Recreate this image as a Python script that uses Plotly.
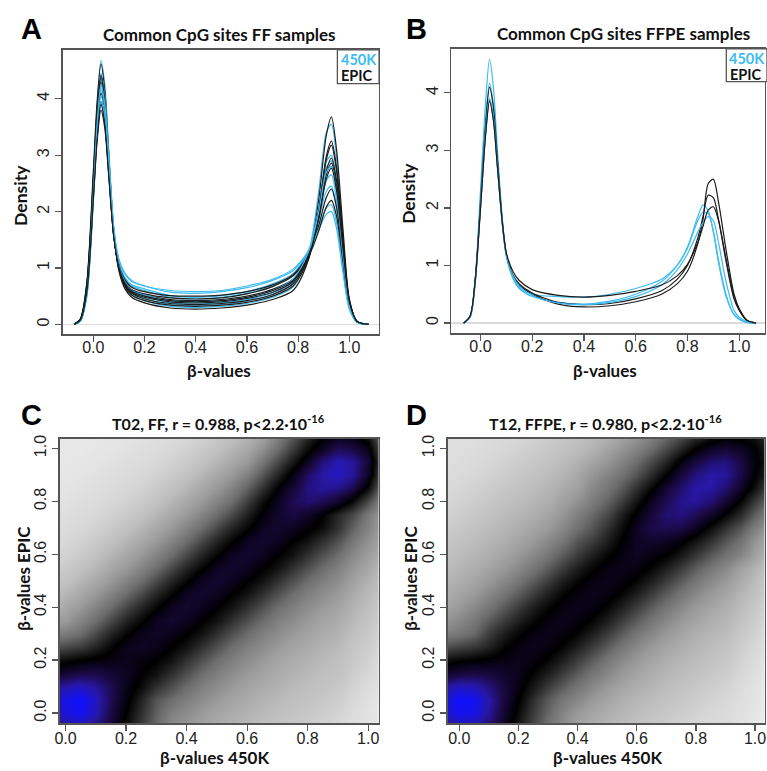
import plotly.graph_objects as go

W, H = 767, 771
BLUE = "#3DBBF2"
BLACK = "#1c1c1c"

# ---------------- Panel A: density curves, FF samples ----------------
A_X = [-0.075, -0.05, -0.025, 0.0, 0.015, 0.03, 0.045, 0.06, 0.08, 0.1, 0.125, 0.15, 0.2, 0.3,
       0.4, 0.5, 0.6, 0.7, 0.78, 0.84, 0.88, 0.91, 0.93, 0.95, 0.975, 1.0, 1.03, 1.075]
A_EPIC = [
    [0, 0.1, 0.75, 2.7, 3.95, 4.62, 4.15, 3.05, 1.65, 0.95, 0.62, 0.48, 0.38, 0.29, 0.27, 0.29, 0.34, 0.44, 0.6, 1.15, 2.2, 3.35, 3.68, 3.1, 1.7, 0.45, 0.05, 0],
    [0, 0.1, 0.72, 2.6, 3.8, 4.42, 3.98, 2.92, 1.6, 0.98, 0.66, 0.52, 0.42, 0.34, 0.32, 0.34, 0.39, 0.5, 0.68, 1.15, 2.0, 2.98, 3.25, 2.78, 1.55, 0.42, 0.05, 0],
    [0, 0.09, 0.7, 2.55, 3.75, 4.38, 3.95, 2.9, 1.62, 1.0, 0.68, 0.55, 0.45, 0.37, 0.35, 0.37, 0.42, 0.53, 0.72, 1.18, 2.0, 2.92, 3.18, 2.72, 1.5, 0.42, 0.05, 0],
    [0, 0.09, 0.68, 2.5, 3.68, 4.30, 3.88, 2.85, 1.6, 1.0, 0.7, 0.57, 0.48, 0.4, 0.38, 0.4, 0.46, 0.57, 0.76, 1.2, 1.92, 2.72, 2.95, 2.55, 1.42, 0.4, 0.05, 0],
    [0, 0.08, 0.65, 2.4, 3.5, 4.10, 3.72, 2.78, 1.58, 1.02, 0.72, 0.6, 0.52, 0.44, 0.42, 0.44, 0.5, 0.62, 0.8, 1.22, 1.9, 2.65, 2.86, 2.45, 1.38, 0.4, 0.05, 0],
    [0, 0.08, 0.62, 2.3, 3.38, 3.95, 3.6, 2.72, 1.58, 1.05, 0.78, 0.66, 0.58, 0.51, 0.5, 0.52, 0.58, 0.7, 0.88, 1.25, 1.75, 2.25, 2.40, 2.08, 1.2, 0.38, 0.05, 0],
    [0, 0.08, 0.6, 2.25, 3.32, 3.90, 3.55, 2.7, 1.56, 1.04, 0.75, 0.62, 0.54, 0.47, 0.45, 0.47, 0.54, 0.67, 0.86, 1.2, 1.65, 2.08, 2.20, 1.92, 1.12, 0.36, 0.05, 0],
    [0, 0.08, 0.58, 2.2, 3.25, 3.80, 3.48, 2.65, 1.55, 1.02, 0.72, 0.59, 0.5, 0.42, 0.40, 0.42, 0.48, 0.6, 0.78, 1.2, 1.85, 2.58, 2.77, 2.38, 1.35, 0.4, 0.05, 0],
]
A_450K = [
    [0, 0.07, 0.6, 2.5, 3.85, 4.68, 4.25, 3.15, 1.72, 1.0, 0.66, 0.52, 0.42, 0.32, 0.30, 0.32, 0.37, 0.48, 0.66, 1.25, 2.35, 3.4, 3.55, 2.95, 1.5, 0.38, 0.04, 0],
    [0, 0.07, 0.58, 2.4, 3.7, 4.45, 4.05, 3.02, 1.68, 1.02, 0.7, 0.56, 0.46, 0.35, 0.33, 0.35, 0.41, 0.53, 0.72, 1.25, 2.05, 2.88, 3.0, 2.5, 1.3, 0.35, 0.04, 0],
    [0, 0.07, 0.56, 2.35, 3.62, 4.35, 3.98, 2.98, 1.68, 1.04, 0.72, 0.58, 0.5, 0.38, 0.36, 0.38, 0.44, 0.56, 0.75, 1.25, 2.0, 2.78, 2.9, 2.42, 1.26, 0.34, 0.04, 0],
    [0, 0.06, 0.54, 2.28, 3.5, 4.2, 3.85, 2.92, 1.68, 1.08, 0.8, 0.68, 0.6, 0.48, 0.45, 0.48, 0.55, 0.68, 0.86, 1.3, 1.92, 2.55, 2.65, 2.2, 1.15, 0.32, 0.04, 0],
    [0, 0.06, 0.53, 2.25, 3.45, 4.15, 3.8, 2.9, 1.68, 1.1, 0.82, 0.7, 0.63, 0.51, 0.48, 0.51, 0.58, 0.72, 0.9, 1.3, 1.85, 2.36, 2.45, 2.05, 1.08, 0.3, 0.04, 0],
    [0, 0.06, 0.52, 2.2, 3.38, 4.05, 3.72, 2.86, 1.7, 1.14, 0.88, 0.76, 0.68, 0.57, 0.55, 0.58, 0.65, 0.78, 0.95, 1.3, 1.72, 2.06, 2.12, 1.8, 0.98, 0.28, 0.04, 0],
    [0, 0.06, 0.5, 2.15, 3.3, 3.95, 3.65, 2.82, 1.7, 1.16, 0.9, 0.78, 0.68, 0.6, 0.58, 0.6, 0.68, 0.8, 0.98, 1.3, 1.68, 1.95, 2.0, 1.7, 0.92, 0.27, 0.04, 0],
    [0, 0.06, 0.55, 2.3, 3.55, 4.25, 3.9, 2.95, 1.68, 1.05, 0.74, 0.6, 0.52, 0.42, 0.40, 0.42, 0.48, 0.6, 0.8, 1.28, 1.98, 2.7, 2.8, 2.34, 1.22, 0.33, 0.04, 0],
]

# ---------------- Panel B: density curves, FFPE samples ----------------
B_X = [-0.065, -0.04, -0.02, 0.0, 0.02, 0.035, 0.05, 0.065, 0.085, 0.1, 0.125, 0.15, 0.2, 0.3, 0.4,
       0.5, 0.6, 0.7, 0.76, 0.8, 0.84, 0.86, 0.88, 0.9, 0.92, 0.95, 0.98, 1.0, 1.03, 1.065]
B_EPIC = [
    [0, 0.12, 0.75, 2.0, 3.3, 3.88, 3.55, 2.75, 1.7, 1.18, 0.82, 0.66, 0.5, 0.33, 0.28, 0.3, 0.37, 0.5, 0.68, 0.9, 1.38, 1.8, 2.42, 2.5, 2.1, 1.25, 0.5, 0.25, 0.05, 0],
    [0, 0.12, 0.78, 2.1, 3.45, 4.1, 3.75, 2.88, 1.75, 1.2, 0.84, 0.68, 0.52, 0.36, 0.32, 0.34, 0.42, 0.56, 0.76, 1.0, 1.48, 1.85, 2.22, 2.18, 1.8, 1.05, 0.42, 0.22, 0.04, 0],
    [0, 0.12, 0.74, 1.98, 3.28, 3.85, 3.52, 2.74, 1.72, 1.22, 0.9, 0.74, 0.58, 0.48, 0.45, 0.48, 0.55, 0.66, 0.82, 1.02, 1.4, 1.68, 1.96, 2.02, 1.78, 1.1, 0.45, 0.24, 0.05, 0],
]
B_450K = [
    [0, 0.1, 0.78, 2.3, 3.85, 4.58, 4.1, 3.05, 1.8, 1.18, 0.78, 0.6, 0.46, 0.36, 0.33, 0.38, 0.5, 0.72, 1.0, 1.32, 1.85, 2.05, 1.95, 1.58, 1.05, 0.45, 0.14, 0.06, 0.01, 0],
    [0, 0.1, 0.74, 2.15, 3.55, 4.17, 3.78, 2.85, 1.72, 1.16, 0.8, 0.62, 0.5, 0.46, 0.45, 0.5, 0.6, 0.76, 1.0, 1.3, 1.78, 1.93, 1.9, 1.6, 1.1, 0.48, 0.15, 0.07, 0.01, 0],
    [0, 0.1, 0.7, 2.05, 3.35, 3.9, 3.58, 2.78, 1.72, 1.18, 0.82, 0.64, 0.48, 0.35, 0.32, 0.36, 0.46, 0.66, 0.92, 1.2, 1.58, 1.75, 1.85, 1.78, 1.4, 0.7, 0.22, 0.1, 0.02, 0],
]

# ---------------- Panels C / D: smoothed scatter density (0 = none, 100 = max) ----------------
GRID = [-0.05, 0.0, 0.05, 0.1, 0.15, 0.2, 0.25, 0.3, 0.35, 0.4, 0.45, 0.5, 0.55, 0.6,
        0.65, 0.7, 0.75, 0.8, 0.85, 0.9, 0.95, 1.0, 1.05]
C_Z = [
    [88, 92, 93, 90, 84, 76, 68, 60, 53, 50, 47, 45, 43, 41, 39, 38, 36, 34, 32, 30, 27, 24, 20],
    [92, 97, 99, 94, 86, 78, 70, 62, 56, 53, 50, 47, 45, 43, 41, 39, 38, 36, 34, 32, 28, 25, 21],
    [93, 98, 100, 95, 87, 80, 72, 64, 60, 56, 53, 50, 47, 45, 43, 41, 39, 38, 36, 34, 30, 26, 22],
    [90, 93, 95, 92, 87, 81, 76, 70, 65, 60, 56, 53, 50, 47, 45, 43, 41, 39, 38, 36, 32, 28, 23],
    [82, 84, 86, 86, 84, 82, 78, 75, 70, 65, 60, 56, 53, 50, 47, 45, 43, 41, 39, 38, 34, 30, 25],
    [74, 76, 78, 79, 80, 81, 80, 78, 75, 70, 65, 60, 56, 53, 50, 47, 45, 43, 41, 39, 36, 32, 27],
    [64, 66, 68, 72, 77, 81, 82, 81, 78, 75, 70, 65, 60, 56, 53, 50, 47, 45, 43, 41, 37, 34, 29],
    [55, 57, 60, 66, 72, 77, 81, 82, 81, 78, 75, 70, 65, 60, 56, 53, 50, 47, 45, 43, 39, 35, 31],
    [48, 50, 55, 60, 66, 72, 77, 82, 83, 82, 78, 75, 70, 65, 60, 56, 53, 50, 47, 45, 41, 37, 32],
    [42, 46, 50, 55, 60, 66, 72, 77, 82, 83, 82, 78, 75, 70, 65, 60, 56, 53, 50, 47, 43, 39, 34],
    [38, 42, 46, 50, 55, 60, 66, 72, 77, 82, 83, 82, 78, 75, 70, 65, 60, 56, 53, 50, 45, 41, 36],
    [35, 38, 42, 46, 50, 55, 60, 66, 72, 77, 82, 83, 82, 78, 75, 70, 65, 60, 56, 53, 48, 43, 38],
    [32, 35, 38, 42, 46, 50, 55, 60, 66, 72, 77, 82, 83, 82, 78, 75, 70, 65, 60, 56, 51, 46, 40],
    [30, 32, 35, 38, 42, 46, 50, 55, 60, 66, 72, 77, 82, 83, 82, 78, 75, 70, 65, 60, 54, 49, 43],
    [28, 30, 32, 35, 38, 42, 46, 50, 55, 60, 66, 72, 77, 82, 83, 82, 78, 75, 70, 65, 58, 52, 46],
    [27, 28, 30, 32, 35, 38, 42, 46, 50, 55, 60, 66, 72, 77, 82, 83, 82, 79, 76, 70, 62, 55, 47],
    [25, 27, 28, 30, 32, 35, 38, 42, 46, 50, 55, 60, 66, 73, 79, 83, 85, 83, 78, 72, 66, 57, 48],
    [24, 25, 27, 28, 30, 32, 35, 38, 42, 46, 50, 55, 60, 68, 76, 82, 87, 89, 87, 83, 76, 65, 53],
    [23, 24, 25, 27, 28, 30, 32, 35, 38, 42, 46, 50, 55, 62, 70, 78, 84, 90, 92, 91, 87, 76, 58],
    [22, 23, 24, 25, 27, 28, 30, 32, 35, 38, 42, 46, 50, 56, 64, 72, 80, 88, 93, 95, 92, 82, 62],
    [22, 22, 23, 24, 25, 27, 28, 30, 32, 35, 38, 42, 46, 50, 58, 66, 74, 82, 90, 94, 92, 84, 64],
    [22, 22, 22, 23, 24, 25, 27, 28, 30, 32, 35, 38, 42, 46, 52, 60, 68, 76, 82, 87, 86, 80, 62],
    [22, 22, 22, 22, 23, 24, 25, 27, 28, 30, 32, 35, 38, 42, 47, 55, 63, 71, 77, 80, 79, 74, 58],
]
D_Z = [
    [90, 93, 92, 88, 82, 74, 66, 58, 53, 47, 44, 42, 40, 38, 36, 34, 32, 30, 29, 28, 25, 22, 18],
    [95, 99, 98, 92, 84, 76, 68, 61, 55, 50, 47, 44, 42, 40, 38, 36, 34, 32, 30, 29, 26, 23, 19],
    [96, 100, 99, 93, 85, 78, 70, 63, 58, 54, 50, 47, 44, 42, 40, 38, 36, 34, 32, 30, 27, 24, 20],
    [92, 95, 94, 90, 85, 80, 74, 68, 63, 58, 54, 50, 47, 44, 42, 40, 38, 36, 34, 32, 28, 25, 21],
    [83, 85, 86, 85, 83, 81, 77, 73, 68, 63, 58, 54, 50, 47, 44, 42, 40, 38, 36, 34, 30, 26, 22],
    [75, 77, 78, 79, 80, 81, 80, 77, 73, 68, 63, 58, 54, 50, 47, 44, 42, 40, 38, 36, 32, 28, 23],
    [65, 67, 69, 72, 77, 80, 81, 80, 77, 73, 68, 63, 58, 54, 50, 47, 44, 42, 40, 38, 34, 30, 25],
    [56, 58, 61, 68, 73, 77, 80, 81, 80, 77, 73, 68, 63, 58, 54, 50, 47, 44, 42, 40, 36, 32, 27],
    [51, 54, 58, 63, 68, 73, 77, 80, 81, 80, 77, 73, 68, 63, 58, 54, 50, 47, 44, 42, 38, 34, 29],
    [47, 50, 54, 58, 63, 68, 73, 77, 80, 81, 80, 77, 73, 68, 63, 58, 54, 50, 47, 44, 40, 36, 31],
    [44, 47, 50, 54, 58, 63, 68, 73, 77, 80, 81, 80, 77, 73, 68, 63, 58, 54, 50, 47, 42, 38, 33],
    [42, 44, 47, 50, 54, 58, 63, 68, 73, 77, 80, 81, 80, 77, 73, 68, 63, 58, 54, 50, 45, 40, 35],
    [40, 42, 44, 47, 50, 54, 58, 63, 68, 73, 77, 80, 81, 80, 77, 73, 68, 63, 58, 54, 48, 43, 37],
    [38, 40, 42, 44, 47, 50, 54, 58, 63, 68, 73, 77, 80, 82, 80, 78, 74, 69, 64, 59, 55, 48, 42],
    [36, 38, 40, 42, 44, 47, 50, 54, 58, 64, 68, 73, 78, 82, 83, 82, 79, 75, 70, 64, 59, 51, 45],
    [34, 36, 38, 40, 42, 44, 47, 50, 54, 59, 64, 70, 76, 82, 86, 87, 86, 82, 76, 70, 64, 56, 50],
    [32, 34, 36, 38, 40, 42, 44, 47, 51, 56, 61, 66, 73, 79, 85, 89, 90, 87, 83, 77, 71, 62, 55],
    [30, 32, 34, 36, 38, 40, 42, 44, 48, 52, 57, 62, 68, 75, 82, 87, 91, 92, 89, 84, 77, 68, 60],
    [29, 30, 32, 34, 36, 38, 40, 42, 45, 48, 54, 58, 63, 70, 77, 84, 89, 93, 93, 89, 83, 75, 66],
    [28, 29, 30, 32, 34, 36, 38, 40, 42, 46, 51, 55, 59, 64, 71, 78, 85, 90, 93, 92, 86, 78, 71],
    [27, 28, 29, 30, 32, 34, 36, 38, 40, 43, 47, 51, 55, 60, 66, 72, 80, 85, 89, 90, 86, 79, 73],
    [26, 27, 28, 29, 30, 32, 34, 36, 38, 40, 43, 47, 51, 55, 60, 66, 72, 78, 82, 84, 82, 78, 72],
    [25, 26, 27, 28, 29, 30, 32, 34, 36, 38, 40, 43, 47, 51, 55, 60, 65, 70, 74, 76, 76, 74, 69],
]

BETA_TICKS = [0.0, 0.2, 0.4, 0.6, 0.8, 1.0]
DENS_TICKS = [0, 1, 2, 3, 4]

DENS_COLORS = [
    [0.00, "#FFFFFF"], [0.20, "#ECECEC"], [0.30, "#D8D8D8"], [0.40, "#BDBDBD"],
    [0.50, "#9A9A9A"], [0.60, "#6E6E6E"], [0.70, "#303030"], [0.78, "#000000"],
    [0.86, "#1C0A48"], [0.93, "#2818A8"], [1.00, "#1010FF"],
]

# ---------------- figure ----------------
def fx(p):
    return p / W

def fy(p):
    return 1 - p / H

fig = go.Figure()

for k in range(len(A_EPIC)):
    fig.add_trace(go.Scatter(x=A_X, y=A_450K[k], mode="lines", xaxis="x", yaxis="y",
                             line=dict(color=BLUE, width=1.2, shape="spline", smoothing=0.8),
                             hoverinfo="skip"))
    fig.add_trace(go.Scatter(x=A_X, y=A_EPIC[k], mode="lines", xaxis="x", yaxis="y",
                             line=dict(color=BLACK, width=1.2, shape="spline", smoothing=0.8),
                             hoverinfo="skip"))
for k in range(len(B_EPIC)):
    fig.add_trace(go.Scatter(x=B_X, y=B_450K[k], mode="lines", xaxis="x2", yaxis="y2",
                             line=dict(color=BLUE, width=1.2, shape="spline", smoothing=0.8),
                             hoverinfo="skip"))
    fig.add_trace(go.Scatter(x=B_X, y=B_EPIC[k], mode="lines", xaxis="x2", yaxis="y2",
                             line=dict(color=BLACK, width=1.2, shape="spline", smoothing=0.8),
                             hoverinfo="skip"))

fig.add_trace(go.Heatmap(x=GRID, y=GRID, z=C_Z, xaxis="x3", yaxis="y3", zmin=0, zmax=100,
                         colorscale=DENS_COLORS, zsmooth="best", showscale=False, hoverinfo="skip"))
fig.add_trace(go.Heatmap(x=GRID, y=GRID, z=D_Z, xaxis="x4", yaxis="y4", zmin=0, zmax=100,
                         colorscale=DENS_COLORS, zsmooth="best", showscale=False, hoverinfo="skip"))

TICKFONT = dict(family="Liberation Sans", size=16, color="#222222")
FRAME = "#555555"

def ax(domain, rng, tickvals, ticktext, anchor, angle=0, zl=False, standoff=0):
    d = dict(domain=domain, range=rng, anchor=anchor, tickvals=tickvals, ticktext=ticktext,
             showline=True, mirror=True, linecolor=FRAME, linewidth=1.3,
             ticks="outside", ticklen=6, tickwidth=1.2, tickcolor=FRAME,
             showgrid=False, zeroline=zl, zerolinecolor="#dcdcdc", zerolinewidth=1.2,
             tickfont=TICKFONT, tickangle=angle, fixedrange=True,
             ticklabeloverflow="allow", ticklabelstandoff=standoff)
    return d

bt = [f"{v:.1f}" for v in BETA_TICKS]
dt = [str(v) for v in DENS_TICKS]

fig.update_layout(
    width=W, height=H, margin=dict(l=0, r=0, t=0, b=0),
    paper_bgcolor="white", plot_bgcolor="white", showlegend=False,
    xaxis=ax([fx(58), fx(377)], [-0.12, 1.116], BETA_TICKS, bt, "y", standoff=-8),
    yaxis=ax([fy(332), fy(46)], [-0.176, 4.87], DENS_TICKS, dt, "x", -90, True),
    xaxis2=ax([fx(450), fx(766)], [-0.112, 1.0997], BETA_TICKS, bt, "y2", standoff=-8),
    yaxis2=ax([fy(331), fy(45)], [-0.178, 4.766], DENS_TICKS, dt, "x2", -90, True),
    xaxis3=ax([fx(55), fx(377)], [-0.0197, 1.036], BETA_TICKS, bt, "y3", standoff=-6),
    yaxis3=ax([fy(723), fy(437)], [-0.0387, 1.0365], BETA_TICKS, bt, "x3", -90),
    xaxis4=ax([fx(446), fx(766)], [-0.040, 1.0336], BETA_TICKS, bt, "y4", standoff=-6),
    yaxis4=ax([fy(723), fy(437)], [-0.0387, 1.0365], BETA_TICKS, bt, "x4", -90),
)

TITLE_FONT = "Lato"
LETTER_FONT = "Liberation Sans"

def note(text, px, py, size, family=TITLE_FONT, color="#111111", angle=0, xanchor="center"):
    fig.add_annotation(text=text, x=fx(px), y=fy(py), xref="paper", yref="paper",
                       showarrow=False, xanchor=xanchor, yanchor="middle", textangle=angle,
                       font=dict(family=family, size=size, color=color))

# panel letters
for letter, (lx, ly) in {"A": (27, 25), "B": (415, 25), "C": (27, 413), "D": (415, 413)}.items():
    note(f"<b>{letter}</b>", lx, ly, 29, family=LETTER_FONT, color="#000000")

# panel titles
note("<b>Common CpG sites FF samples</b>", 216, 31, 17)
note("<b>Common CpG sites FFPE samples</b>", 623, 30, 17)
note("<b>T02, FF, r = 0.988, p&lt;2.2·10<sup>-16</sup></b>", 215, 421, 16)
note("<b>T12, FFPE, r = 0.980, p&lt;2.2·10<sup>-16</sup></b>", 605, 421, 16)

# axis titles (rotated ones nudged to compensate for rotation offset)
note("<b>Density</b>", 15, 192, 17.5, angle=-90)
note("<b>Density</b>", 406, 190, 17.5, angle=-90)
note("<b>β-values</b>", 216, 368, 17)
note("<b>β-values</b>", 605, 368, 17)
note("<b>β-values EPIC</b>", 18, 577, 17, angle=-90)
note("<b>β-values EPIC</b>", 408, 577, 17, angle=-90)
note("<b>β-values 450K</b>", 211, 757, 17)
note("<b>β-values 450K</b>", 607, 757, 17)

# legend boxes
for (x0, y0, x1, y1) in [(335, 46, 377, 80), (727, 45, 768, 78)]:
    fig.add_shape(type="rect", xref="paper", yref="paper", x0=fx(x0), x1=fx(x1), y0=fy(y1), y1=fy(y0),
                  line=dict(color=FRAME, width=1.3), fillcolor="white", layer="above")
note("<b>450K</b>", 337, 55.5, 14.5, color=BLUE, xanchor="left")
note("<b>EPIC</b>", 337, 72, 14.5, color="#111111", xanchor="left")
note("<b>450K</b>", 728, 54.5, 14.5, color=BLUE, xanchor="left")
note("<b>EPIC</b>", 729, 71, 14.5, color="#111111", xanchor="left")

fig.write_html(
    "out.html",
    config={"displayModeBar": False, "staticPlot": True},
    post_script="document.body.style.margin='0px';document.body.style.padding='0px';"
                "document.body.style.overflow='hidden';",
)
